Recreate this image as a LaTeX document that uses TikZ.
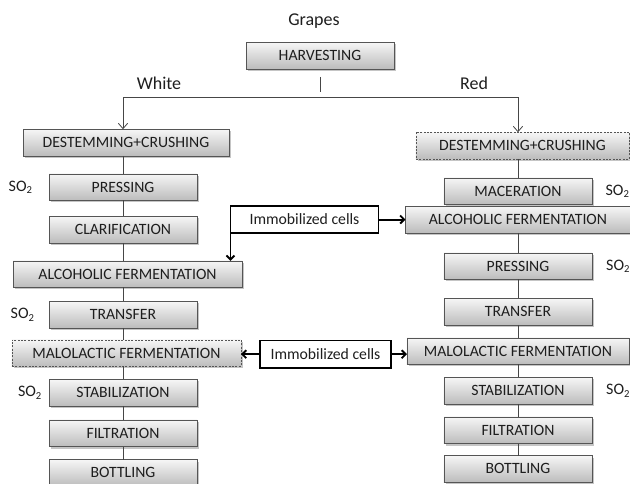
\documentclass[tikz,border=0pt]{standalone}
\usepackage{fontspec}
\setmainfont{Carlito}
\usetikzlibrary{positioning, arrows.meta, shadows, calc}
\definecolor{BoxLine}{RGB}{85, 85, 85}
\definecolor{BoxTop}{RGB}{246, 246, 246}
\definecolor{BoxBottom}{RGB}{188, 188, 188}
\definecolor{LineColor}{RGB}{70, 70, 70}
\definecolor{TextColor}{RGB}{30, 30, 30}
\tikzset{
    process/.style={
        draw=BoxLine,
        rectangle,
        top color=BoxTop,
        bottom color=BoxBottom,
        text=TextColor,
        minimum width=111pt,
        minimum height=19.9pt,
        inner sep=0pt,
        outer sep=0pt,
        font=\fontsize{11.8}{13}\selectfont,
        drop shadow={shadow xshift=1.5pt, shadow yshift=-1.5pt, fill=black!45, opacity=0.5}
    },
    optionalbox/.style={
        dash pattern=on 1.5pt off 1pt
    },
    cellbox/.style={
        draw=black,
        line width=1.4pt,
        fill=white,
        text=TextColor,
        minimum height=20.5pt,
        inner sep=0pt,
        outer sep=0pt,
        font=\fontsize{11.8}{13}\selectfont
    },
    notetext/.style={
        text=TextColor,
        inner sep=0pt,
        font=\fontsize{13.5}{15}\selectfont
    },
    sotwo/.style={
        text=TextColor,
        inner sep=0pt,
        font=\fontsize{12}{14}\selectfont
    }
}

\begin{document}
\begin{tikzpicture}[x=0.75pt, y=-0.75pt]

    \useasboundingbox (0,0) rectangle (630,483);

    % ============================================================================
    % TOP
    % ============================================================================

    \node[notetext] (Grapes) at (314,21) {Grapes};
    \node[process] (Harvesting) at (320,55.5) {HARVESTING};
    \node[notetext] (White) at (159,83) {White};
    \node[notetext] (Red) at (474,83) {Red};
    \coordinate (Split) at (321,97);

    % ============================================================================
    % WHITE WINE (left)
    % ============================================================================

    \node[process, minimum width=154.5pt] (DestemL) at (126,142.5) {DESTEMMING+CRUSHING};
    \node[process, below=13.5pt of DestemL, xshift=-2.25pt] (PressL) {PRESSING};
    \node[process, below=12pt of PressL] (ClarL) {CLARIFICATION};
    \node[process, minimum width=171.75pt, below=13.5pt of ClarL, xshift=3.4pt] (AlcL) {ALCOHOLIC FERMENTATION};
    \node[process, below=10.5pt of AlcL, xshift=-3.4pt] (TransL) {TRANSFER};
    \node[process, optionalbox, minimum width=171.75pt, below=9pt of TransL, xshift=2.6pt] (MaloL) {MALOLACTIC FERMENTATION};
    \node[process, below=9.75pt of MaloL, xshift=-2.6pt] (StabL) {STABILIZATION};
    \node[process, below=10.5pt of StabL] (FiltL) {FILTRATION};
    \node[process, below=9.75pt of FiltL] (BottL) {BOTTLING};

    % SO2 additions
    \node[sotwo, left=12pt of PressL] (SoPressL) {SO\textsubscript{2}};
    \node[sotwo, left=10.5pt of TransL] (SoTransL) {SO\textsubscript{2}};
    \node[sotwo, left=5pt of StabL] (SoStabL) {SO\textsubscript{2}};

    % ============================================================================
    % RED WINE (right)
    % ============================================================================

    \node[process, optionalbox, minimum width=160pt] (DestemR) at (522.5,145.5) {DESTEMMING+CRUSHING};
    \node[process, below=14.25pt of DestemR, xshift=-3.4pt] (MacerR) {MACERATION};
    \node[process, minimum width=168.75pt, below=1.5pt of MacerR] (AlcR) {ALCOHOLIC FERMENTATION};
    \node[process, below=15pt of AlcR] (PressR) {PRESSING};
    \node[process, below=14.25pt of PressR] (TransR) {TRANSFER};
    \node[process, minimum width=166.5pt, below=9.75pt of TransR] (MaloR) {MALOLACTIC FERMENTATION};
    \node[process, below=9.75pt of MaloR] (StabR) {STABILIZATION};
    \node[process, below=9.75pt of StabR] (FiltR) {FILTRATION};
    \node[process, below=9pt of FiltR] (BottR) {BOTTLING};

    % SO2 additions
    \node[sotwo, right=10pt of MacerR] (SoMacerR) {SO\textsubscript{2}};
    \node[sotwo, right=10.5pt of PressR] (SoPressR) {SO\textsubscript{2}};
    \node[sotwo, right=10.5pt of StabR] (SoStabR) {SO\textsubscript{2}};

    % ============================================================================
    % IMMOBILIZED CELLS
    % ============================================================================

    \node[cellbox, minimum width=111pt, left=20.25pt of AlcR] (CellsA) {Immobilized cells};
    \node[cellbox, minimum width=98.25pt, left=12pt of MaloR, yshift=-2.25pt] (CellsB) {Immobilized cells};

    % ============================================================================
    % CONNECTIONS
    % ============================================================================

    \tikzset{
        flowline/.style={draw=LineColor, line width=0.6pt},
        branchline/.style={flowline, -{Straight Barb[length=4pt, width=7pt]}},
        cellarrow/.style={draw=black, line width=1.4pt, -{Straight Barb[length=3pt, width=6pt]}}
    }

    % Harvesting splits into white and red
    \draw[flowline, shorten <=6pt, shorten >=3.75pt] (Harvesting.south) -- (Harvesting.south |- Split);
    \draw[branchline] (Split) -| (DestemL.north -| PressL);
    \draw[branchline] (Split) -| (DestemR.north -| MacerR);

    % White column
    \draw[flowline] (DestemL.south -| PressL) -- (PressL.north);
    \draw[flowline] (PressL.south) -- (ClarL.north);
    \draw[flowline] (ClarL.south) -- (ClarL.south |- AlcL.north);
    \draw[flowline] (AlcL.south -| TransL) -- (TransL.north);
    \draw[flowline] (TransL.south) -- (TransL.south |- MaloL.north);
    \draw[flowline] (MaloL.south -| StabL) -- (StabL.north);
    \draw[flowline] (StabL.south) -- (FiltL.north);
    \draw[flowline] (FiltL.south) -- (BottL.north);

    % Red column
    \draw[flowline] (DestemR.south -| MacerR) -- (MacerR.north);
    \draw[flowline] (AlcR.south -| PressR) -- (PressR.north);
    \draw[flowline] (PressR.south) -- (TransR.north);
    \draw[flowline] (TransR.south) -- (TransR.south |- MaloR.north);
    \draw[flowline] (MaloR.south -| StabR) -- (StabR.north);
    \draw[flowline] (StabR.south) -- (FiltR.north);
    \draw[flowline] (FiltR.south) -- (BottR.north);

    % Immobilized cells feed the fermentations
    \draw[cellarrow] (CellsA.east) -- (CellsA.east -| AlcR.west);
    \draw[cellarrow] (CellsA.south west) -- (CellsA.south west |- AlcL.north);
    \draw[cellarrow] (CellsB.west) -- (CellsB.west -| MaloL.east);
    \draw[cellarrow] (CellsB.east) -- (CellsB.east -| MaloR.west);

\end{tikzpicture}
\end{document}
